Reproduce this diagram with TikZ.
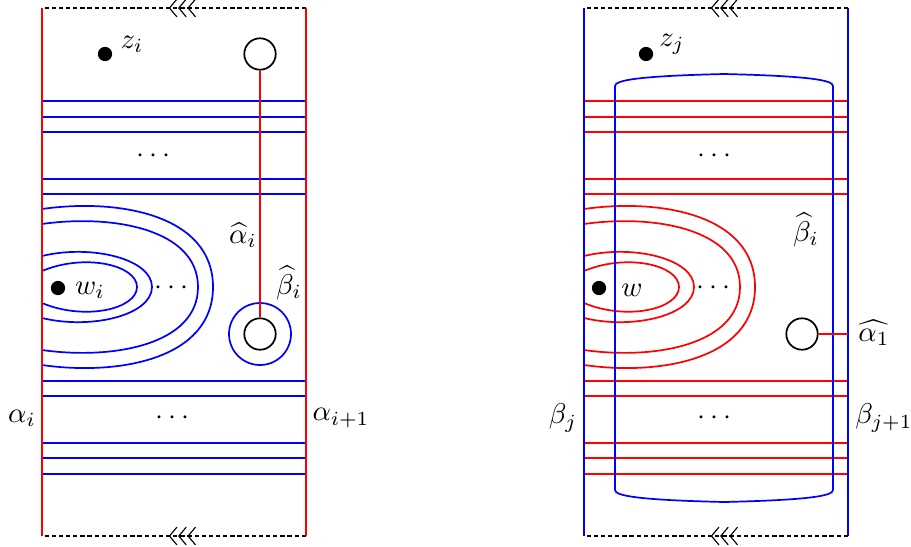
\documentclass[tikz,border=0pt]{standalone}
\usepackage{amsmath}
\usepackage{amssymb}
\usetikzlibrary{arrows.meta, decorations.markings}
\tikzset{
  basept/.style={circle, fill=black, inner sep=0pt, minimum size=5pt},
  hole/.style={circle, draw=black, semithick, inner sep=0pt, minimum size=11pt},
  ring/.style={circle, draw=blue, semithick, inner sep=0pt, minimum size=21.7pt},
  acurve/.style={red, semithick},
  bcurve/.style={blue, semithick},
  gluing/.style={black, dash pattern=on 1.5pt off 1pt, postaction={decorate},
    decoration={markings, mark=at position 0.52 with {\arrow{Straight Barb[length=2.6pt,width=6.2pt,sep=0.2pt] Straight Barb[length=2.6pt,width=6.2pt,sep=0.2pt] Straight Barb[length=2.6pt,width=6.2pt]}}}},
}

\begin{document}
\begin{tikzpicture}[x=0.35pt, y=-0.35pt]
        \useasboundingbox (0,0) rectangle (911,546);

        % left square: alpha curves on the sides
        \draw[gluing] (306,8) -- (42,8);
        \draw[gluing] (306,536) -- (42,536);
        \foreach \y in {101,117,132,179,194,381,396,443,458,474}
          \draw[bcurve] (42,\y) -- (306,\y);
        \foreach \t/\r/\d/\k in {209/213/11/72, 224/198/10/58, 256/152/12/28, 271/137/18/22}
          \draw[bcurve] (42,\t) .. controls ({42+0.45*(\r-42)},\t-\d) and (\r,287-\k) .. (\r,287)
                .. controls (\r,287+\k) and ({42+0.45*(\r-42)},574-\t+\d) .. (42,574-\t);
        \draw[acurve] (42,8) -- (42,536);
        \draw[acurve] (306,8) -- (306,536);

        \node[basept] (zi) at (105,54) {};
        \node (zilab) at (132,44) {$z_i$};
        \node[basept] (wi) at (58,288) {};
        \node (wilab) at (90,290) {$w_i$};
        \node[hole] (htop) at (260,54) {};
        \node[ring] (bhat) at (260,334) {};
        \node[hole] (hbot) at (260,334) {};
        \draw[acurve] (htop) -- (hbot);

        \node (ahati) at (243,235) {$\widehat{\alpha}_i$};
        \node (bhati) at (289,283) {$\widehat{\beta}_i$};
        \node (dl1) at (156,156) {$\cdots$};
        \node (dl2) at (174,288) {$\cdots$};
        \node (dl3) at (175,418) {$\cdots$};
        \node (ai) at (22,418) {$\alpha_i$};
        \node (aii) at (341,418) {$\alpha_{i+1}$};

        % right square: beta curves on the sides
        \draw[gluing] (848,8) -- (584,8);
        \draw[gluing] (848,536) -- (584,536);
        \foreach \y in {101,117,132,179,194,381,396,443,458,474}
          \draw[acurve] (584,\y) -- (848,\y);
        \foreach \t/\r/\d/\k in {209/213/11/72, 224/198/10/58, 256/152/12/28, 271/137/18/22}
          \draw[acurve] (584,\t) .. controls ({584+0.45*(\r-42)},\t-\d) and (\r+542,287-\k) .. (\r+542,287)
                .. controls (\r+542,287+\k) and ({584+0.45*(\r-42)},574-\t+\d) .. (584,574-\t);
        \draw[bcurve] (584,8) -- (584,536);
        \draw[bcurve] (848,8) -- (848,536);
        \draw[bcurve] (615,490) -- (615,86) .. controls (615,80) and (640,76) .. (724,74)
              .. controls (808,76) and (833,80) .. (833,86) -- (833,490)
              .. controls (833,496) and (808,500) .. (724,502)
              .. controls (640,500) and (615,496) .. (615,490) -- cycle;

        \node[basept] (zj) at (646,54) {};
        \node (zjlab) at (672,44) {$z_j$};
        \node[basept] (w) at (599,288) {};
        \node (wlab) at (632,290) {$w$};
        \node[hole] (hr) at (802,334) {};
        \coordinate (hrend) at (848,334);
        \draw[acurve] (hr) -- (hrend);

        \node (ahat1) at (874,333) {$\widehat{\alpha_1}$};
        \node (bhatr) at (806,230) {$\widehat{\beta}_i$};
        \node (dr1) at (717,156) {$\cdots$};
        \node (dr2) at (716,288) {$\cdots$};
        \node (dr3) at (717,418) {$\cdots$};
        \node (bj) at (563,418) {$\beta_j$};
        \node (bjj) at (884,418) {$\beta_{j+1}$};
      \end{tikzpicture}
\end{document}
